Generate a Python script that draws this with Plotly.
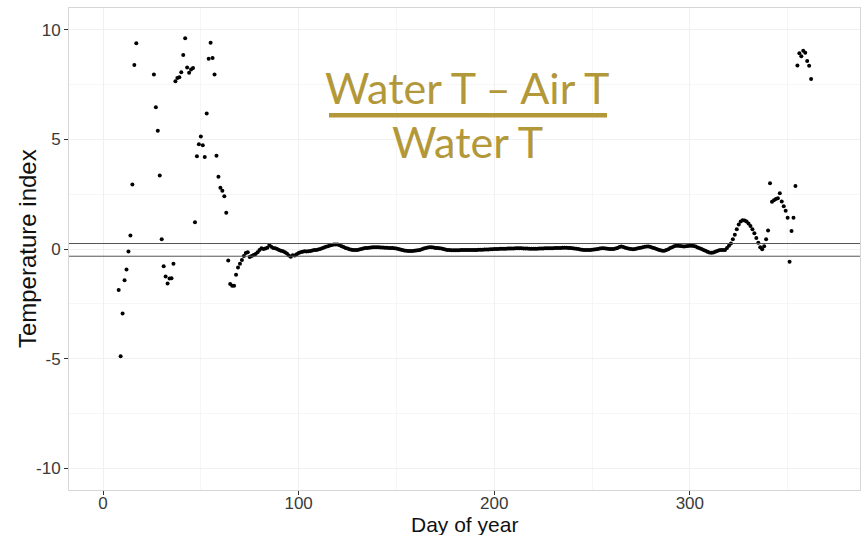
import plotly.graph_objects as go

# Daily temperature index, (Water T - Air T) / Water T
days_winter = list(range(8, 18))
index_winter = [-1.87, -4.89, -2.94, -1.43, -0.93, -0.11, 0.62, 2.94, 8.40, 9.39]

days_main = list(range(26, 363))
index_main = [
    7.96, 6.47, 5.40, 3.35, 0.44, -0.79, -1.26, -1.58, -1.35, -1.34,
    -0.67, 7.66, 7.80, 7.84, 8.07, 8.86, 9.62, 8.28, 8.05, 8.19,
    8.26, 1.22, 4.23, 4.78, 5.14, 4.73, 4.20, 6.18, 8.68, 9.41,
    8.72, 7.96, 4.26, 3.30, 2.79, 2.66, 2.41, 1.66, -0.52, -1.60,
    -1.68, -1.68, -1.17, -0.85, -0.67, -0.50, -0.32, -0.18, -0.15, -0.37,
    -0.32, -0.27, -0.23, -0.15, -0.05, 0.03, 0.00, 0.02, 0.06, 0.18,
    0.10, 0.05, 0.03, 0.00, -0.05, -0.08, -0.10, -0.15, -0.20, -0.30,
    -0.35, -0.28, -0.30, -0.24, -0.18, -0.15, -0.12, -0.10, -0.11, -0.10,
    -0.09, -0.07, -0.05, -0.05, -0.02, 0.00, 0.03, 0.07, 0.10, 0.13,
    0.16, 0.18, 0.20, 0.21, 0.20, 0.17, 0.13, 0.09, 0.05, 0.02,
    -0.01, -0.03, -0.05, -0.05, -0.04, -0.02, 0.00, 0.02, 0.04, 0.05,
    0.06, 0.07, 0.08, 0.08, 0.08, 0.08, 0.07, 0.07, 0.06, 0.06,
    0.05, 0.05, 0.04, 0.03, 0.02, 0.00, -0.02, -0.05, -0.07, -0.08,
    -0.09, -0.09, -0.09, -0.08, -0.07, -0.06, -0.04, -0.01, 0.02, 0.05,
    0.07, 0.08, 0.08, 0.07, 0.05, 0.04, 0.03, 0.02, 0.00, -0.02,
    -0.04, -0.05, -0.06, -0.06, -0.06, -0.06, -0.06, -0.05, -0.05, -0.05,
    -0.05, -0.05, -0.05, -0.04, -0.04, -0.04, -0.03, -0.03, -0.03, -0.02,
    -0.02, -0.02, -0.01, -0.01, 0.00, 0.00, 0.00, 0.01, 0.01, 0.01,
    0.01, 0.02, 0.02, 0.02, 0.02, 0.03, 0.03, 0.03, 0.03, 0.02,
    0.02, 0.02, 0.01, 0.01, 0.01, 0.01, 0.01, 0.02, 0.02, 0.02,
    0.03, 0.03, 0.03, 0.03, 0.03, 0.04, 0.04, 0.05, 0.05, 0.06,
    0.06, 0.06, 0.05, 0.04, 0.03, 0.02, 0.01, 0.00, -0.02, -0.03,
    -0.04, -0.05, -0.05, -0.04, -0.03, -0.02, -0.01, 0.00, 0.02, 0.03,
    0.03, 0.02, 0.01, 0.00, 0.00, 0.00, 0.02, 0.05, 0.09, 0.11,
    0.09, 0.06, 0.03, 0.01, 0.00, -0.01, 0.00, 0.02, 0.04, 0.06,
    0.08, 0.10, 0.11, 0.11, 0.09, 0.06, 0.03, 0.00, -0.03, -0.06,
    -0.08, -0.08, -0.05, -0.01, 0.04, 0.08, 0.12, 0.15, 0.15, 0.14,
    0.12, 0.11, 0.12, 0.14, 0.15, 0.15, 0.14, 0.11, 0.07, 0.03,
    0.00, -0.04, -0.08, -0.12, -0.16, -0.17, -0.16, -0.13, -0.09, -0.06,
    -0.05, -0.05, -0.04, 0.05, 0.15, 0.25, 0.45, 0.65, 0.90, 1.12,
    1.26, 1.31, 1.30, 1.25, 1.16, 1.05, 0.90, 0.72, 0.50, 0.28,
    0.08, -0.01, 0.12, 0.44, 0.84, 3.00, 2.16, 2.22, 2.28, 2.32,
    2.54, 2.17, 1.95, 1.75, 1.43, -0.58, 0.82, 1.43, 2.88, 8.38,
    8.94, 8.80, 9.05, 8.96, 8.58, 8.36, 7.76,
]

# Reference band around zero
band_levels = [0.25, -0.33]

x_ticks = [0, 100, 200, 300]
x_tick_text = ["0", "100", "200", "300"]
y_ticks = [-10, -5, 0, 5, 10]
y_tick_text = ["-10", "-5", "0", "5", "10"]

x_title = "Day of year"
y_title = "Temperature index"
numerator_text = "Water T \u2013 Air T"
denominator_text = "Water T"
gold = "#b3983a"
axis_font = "Liberation Sans, Arial, Helvetica, sans-serif"
formula_font = "Lato, Carlito, sans-serif"

fig = go.Figure()

fig.add_trace(go.Scatter(
    x=days_winter + days_main,
    y=index_winter + index_main,
    mode="markers",
    marker=dict(color="black", size=4),
    showlegend=False,
    hoverinfo="x+y",
))

for level in band_levels:
    fig.add_hline(y=level, line=dict(color="#555555", width=1))

# Formula written as a fraction in the upper part of the panel
fig.add_annotation(
    xref="paper", yref="paper", x=0.504, y=0.836,
    text=numerator_text, showarrow=False,
    font=dict(family=formula_font, size=43, color=gold),
    xanchor="center", yanchor="middle",
)
fig.add_shape(
    type="line", xref="paper", yref="paper",
    x0=0.3287, x1=0.6802, y0=0.7774, y1=0.7774,
    line=dict(color=gold, width=4.5),
)
fig.add_annotation(
    xref="paper", yref="paper", x=0.504, y=0.722,
    text=denominator_text, showarrow=False,
    font=dict(family=formula_font, size=43, color=gold),
    xanchor="center", yanchor="middle",
)

# Axis titles
fig.add_annotation(
    xref="paper", yref="paper", x=0.5, y=-0.071,
    text=x_title, showarrow=False,
    font=dict(family=axis_font, size=21, color="#111111"),
    xanchor="center", yanchor="middle",
)
fig.add_annotation(
    xref="paper", yref="paper", x=-0.053, y=0.5,
    text=y_title, showarrow=False, textangle=-90,
    font=dict(family=axis_font, size=24, color="#111111"),
    xanchor="center", yanchor="middle",
)

axis_common = dict(
    ticks="outside", ticklen=4, tickcolor="#333333",
    tickfont=dict(family=axis_font, size=17, color="#3a3a3a"),
    showgrid=True, gridcolor="#f0f0f0", gridwidth=1,
    showline=True, linecolor="#d6d6d6", mirror=True,
    zeroline=False, automargin=False,
)

fig.update_layout(
    width=866, height=535,
    margin=dict(l=69, r=6, t=8, b=45),
    paper_bgcolor="white",
    plot_bgcolor="white",
    font=dict(family=axis_font, color="#333333"),
    xaxis=dict(
        range=[-17.4, 387],
        tickvals=x_ticks, ticktext=x_tick_text,
        ticklabelstandoff=-6,
        minor=dict(tickvals=[50, 150, 250, 350], showgrid=True,
                   gridcolor="#f6f6f6", ticks=""),
        **axis_common,
    ),
    yaxis=dict(
        range=[-11.0, 11.0],
        tickvals=y_ticks, ticktext=y_tick_text,
        minor=dict(tickvals=[-7.5, -2.5, 2.5, 7.5], showgrid=True,
                   gridcolor="#f6f6f6", ticks=""),
        **axis_common,
    ),
)

fig.write_html("out.html")
